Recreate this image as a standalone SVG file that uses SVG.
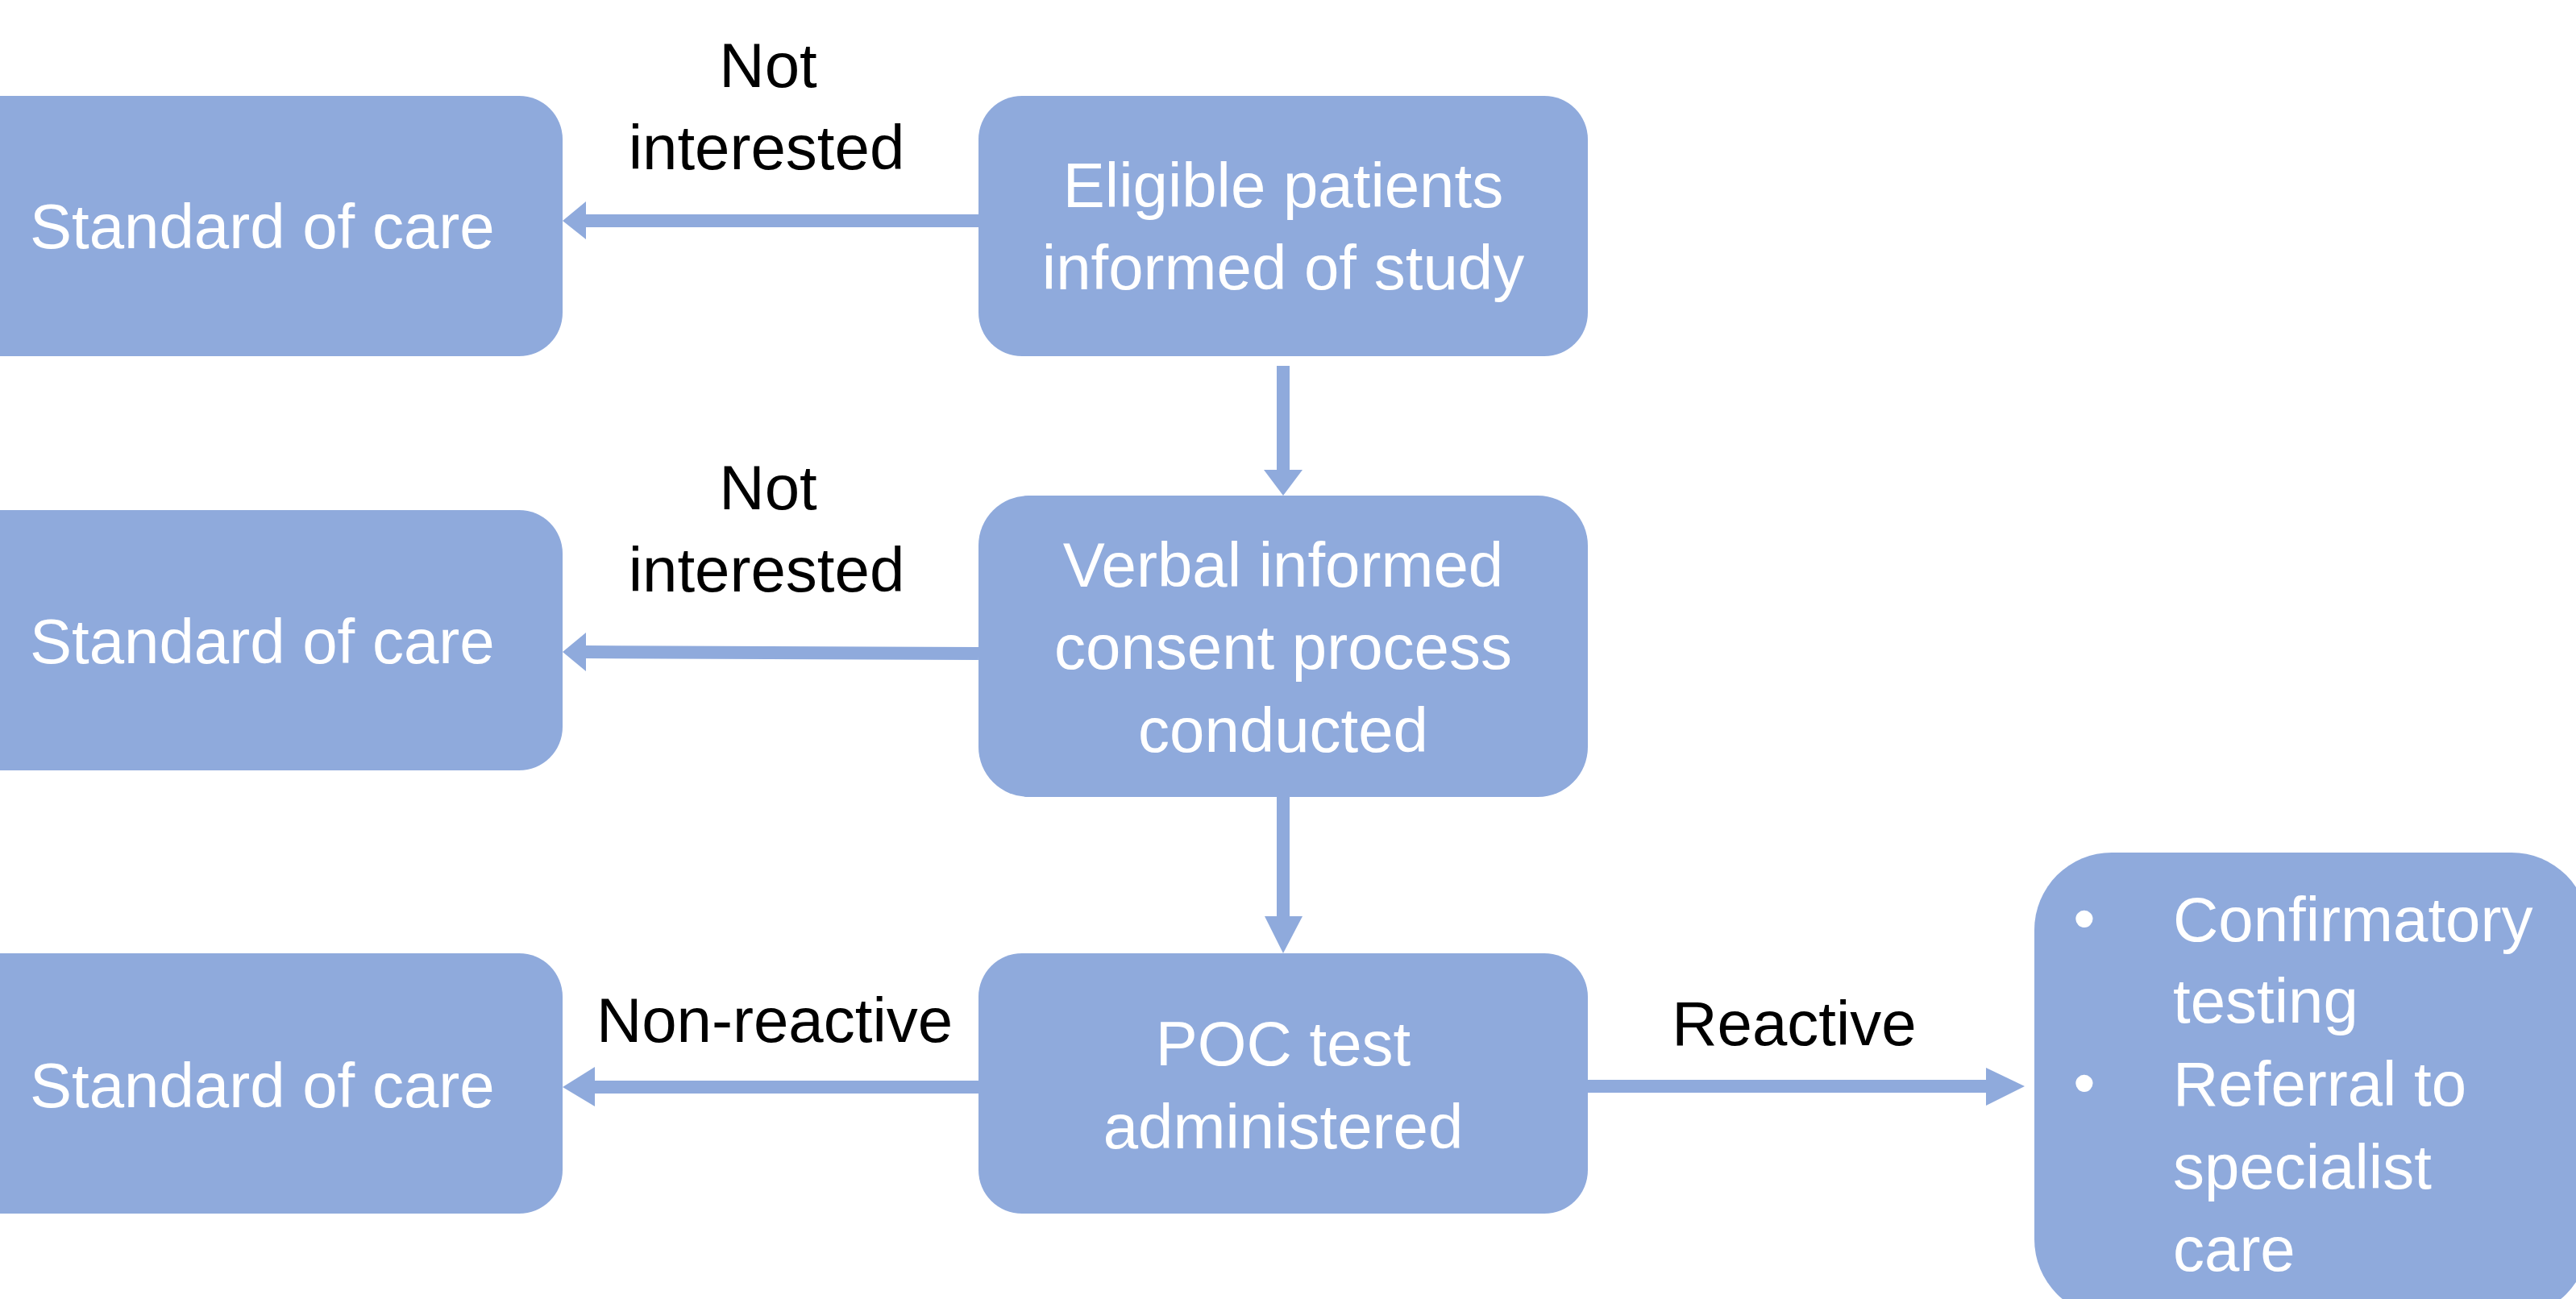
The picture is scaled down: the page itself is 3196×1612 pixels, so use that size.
<svg xmlns="http://www.w3.org/2000/svg" width="3196" height="1612" viewBox="0 0 3196 1612">
<style>
.box{fill:#8FAADC;}
.wt{font-family:"Liberation Sans",Arial,sans-serif;font-size:78px;fill:#FFFFFF;}
.lb{font-family:"Liberation Sans",Arial,sans-serif;font-size:78px;fill:#000000;text-anchor:middle;}
.c{text-anchor:middle;}
.ln{stroke:#8FAADC;stroke-width:16;fill:none;}
.hd{fill:#8FAADC;}
</style>
<rect width="3196" height="1612" fill="#FFFFFF"/>
<g id="connectors">
<line class="ln" x1="1214" y1="274" x2="726" y2="274"/>
<polygon class="hd" points="698,274 727,250 727,297"/>
<line class="ln" x1="1214" y1="811" x2="726" y2="809"/>
<polygon class="hd" points="698,809 727,785 727,833"/>
<line class="ln" x1="1214" y1="1349" x2="737" y2="1349"/>
<polygon class="hd" points="698,1349 738,1324 738,1373"/>
<line class="ln" x1="1970" y1="1348" x2="2465" y2="1348"/>
<polygon class="hd" points="2512,1348 2464,1325 2464,1372"/>
<line class="ln" x1="1592" y1="454" x2="1592" y2="584"/>
<polygon class="hd" points="1592,615 1568,583 1616,583"/>
<line class="ln" x1="1592" y1="988" x2="1592" y2="1138"/>
<polygon class="hd" points="1592,1183 1569,1137 1616,1137"/>
</g>
<g id="labels">
<text class="lb" x="953" y="108">Not</text>
<text class="lb" x="951" y="210">interested</text>
<text class="lb" x="953" y="632">Not</text>
<text class="lb" x="951" y="734">interested</text>
<text class="lb" x="961" y="1293">Non-reactive</text>
<text class="lb" x="2226" y="1297">Reactive</text>
</g>
<g id="soc1">
<rect class="box" x="-100" y="119" width="798" height="323" rx="54" ry="54"/>
<text class="wt" x="37" y="308">Standard of care</text>
</g>
<g id="soc2">
<rect class="box" x="-100" y="633" width="798" height="323" rx="54" ry="54"/>
<text class="wt" x="37" y="823">Standard of care</text>
</g>
<g id="soc3">
<rect class="box" x="-100" y="1183" width="798" height="323" rx="54" ry="54"/>
<text class="wt" x="37" y="1374">Standard of care</text>
</g>
<g id="eligible">
<rect class="box" x="1214" y="119" width="756" height="323" rx="54" ry="54"/>
<text class="wt c" x="1592" y="257">Eligible patients</text>
<text class="wt c" x="1592" y="359">informed of study</text>
</g>
<g id="consent">
<rect class="box" x="1214" y="615" width="756" height="374" rx="62" ry="62"/>
<text class="wt c" x="1592" y="728">Verbal informed</text>
<text class="wt c" x="1592" y="830">consent process</text>
<text class="wt c" x="1592" y="933">conducted</text>
</g>
<g id="poc">
<rect class="box" x="1214" y="1183" width="756" height="323" rx="54" ry="54"/>
<text class="wt c" x="1592" y="1322">POC test</text>
<text class="wt c" x="1592" y="1425">administered</text>
</g>
<g id="followup">
<rect class="box" x="2524" y="1058" width="688" height="576" rx="96" ry="96"/>
<text class="wt c" x="2586" y="1166">•</text>
<text class="wt" x="2696" y="1168">Confirmatory</text>
<text class="wt" x="2696" y="1269">testing</text>
<text class="wt c" x="2586" y="1370">•</text>
<text class="wt" x="2696" y="1372">Referral to</text>
<text class="wt" x="2696" y="1475">specialist</text>
<text class="wt" x="2696" y="1577">care</text>
</g>
</svg>
